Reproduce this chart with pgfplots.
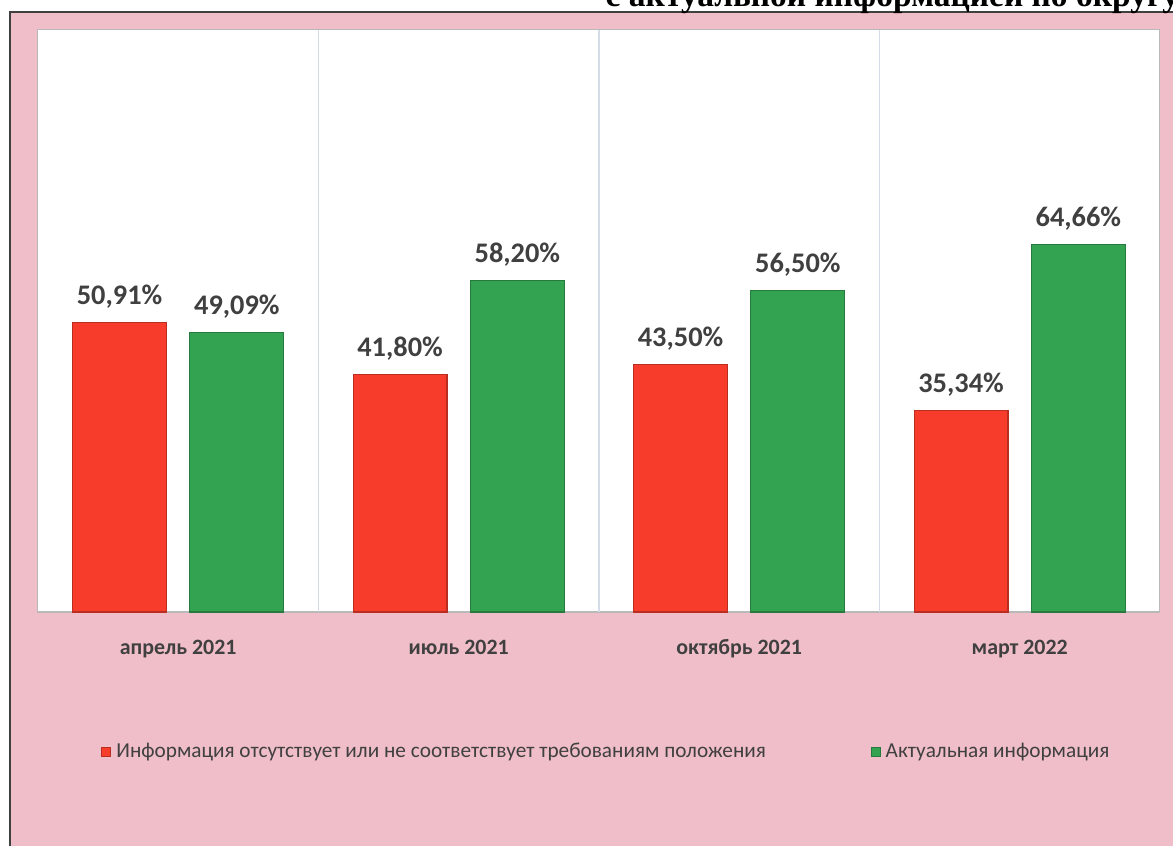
\documentclass[border=0pt]{standalone}
\usepackage{pgfplots}
\pgfplotsset{compat=1.18}
\usepackage{fontspec}
\setmainfont{Carlito}
\newfontfamily\titlefont{Liberation Serif}
\definecolor{pinkbg}{RGB}{240,190,200}
\definecolor{barred}{RGB}{248,60,44}
\definecolor{bargreen}{RGB}{51,163,82}
\definecolor{labgray}{RGB}{64,64,64}
\definecolor{gridblue}{RGB}{212,220,232}
\begin{document}
\begin{tikzpicture}
% page 1173x845 px, 1 px = 0.01364 cm
\path[use as bounding box, fill=white] (0,0) rectangle (16,11.526);
\fill[pinkbg] (0.136,-0.5) rectangle (16.5,11.362);
\draw[black!75, line width=0.8pt] (0.136,-0.5) -- (0.136,11.362) -- (16.5,11.362);
\node[anchor=base east, font=\titlefont\bfseries\fontsize{13}{15}\selectfont, inner sep=0pt]
  at (16.09,11.44) {с актуальной информацией по округу};
\begin{axis}[
    at={(0.518cm,3.178cm)}, anchor=south west,
    scale only axis,
    width=15.304cm, height=7.939cm,
    axis background/.style={fill=white},
    axis line style={gray!55},
    ybar=0.32cm, bar width=1.28cm,
    xmin=-0.5, xmax=3.5,
    ymin=0, ymax=102.3,
    ytick=\empty,
    xtick={0,1,2,3},
    xticklabels={апрель 2021, июль 2021, октябрь 2021, март 2022},
    xtick style={draw=none},
    xticklabel style={font=\bfseries\fontsize{8.5}{10}\selectfont, text=labgray, yshift=-3pt},
    extra x ticks={0.5,1.5,2.5},
    extra x tick labels={},
    extra x tick style={grid=major, major grid style={gridblue, line width=0.6pt}, tick style={draw=none}},
    nodes near coords={\pgfmathprintnumber[fixed, fixed zerofill, precision=2, use comma, assume math mode=true]{\pgfplotspointmeta}\%},
    nodes near coords style={font=\bfseries\fontsize{11}{13}\selectfont, text=labgray, yshift=2pt},
    legend columns=2,
    legend style={at={(0.508,-0.2406)}, anchor=center, draw=none, fill=none,
        font=\fontsize{8.25}{10}\selectfont, text=labgray,
        /tikz/every even column/.append style={column sep=1.36cm}},
    legend image code/.code={\fill[#1] (0cm,-0.06cm) rectangle (0.12cm,0.06cm);},
]
\addplot[fill=barred, draw=barred!75!black, line width=0.4pt]
  coordinates {(0,50.91) (1,41.80) (2,43.50) (3,35.34)};
\addlegendentry{Информация отсутствует или не соответствует требованиям положения}
\addplot[fill=bargreen, draw=bargreen!75!black, line width=0.4pt]
  coordinates {(0,49.09) (1,58.20) (2,56.50) (3,64.66)};
\addlegendentry{Актуальная информация}
\end{axis}
\end{tikzpicture}
\end{document}
